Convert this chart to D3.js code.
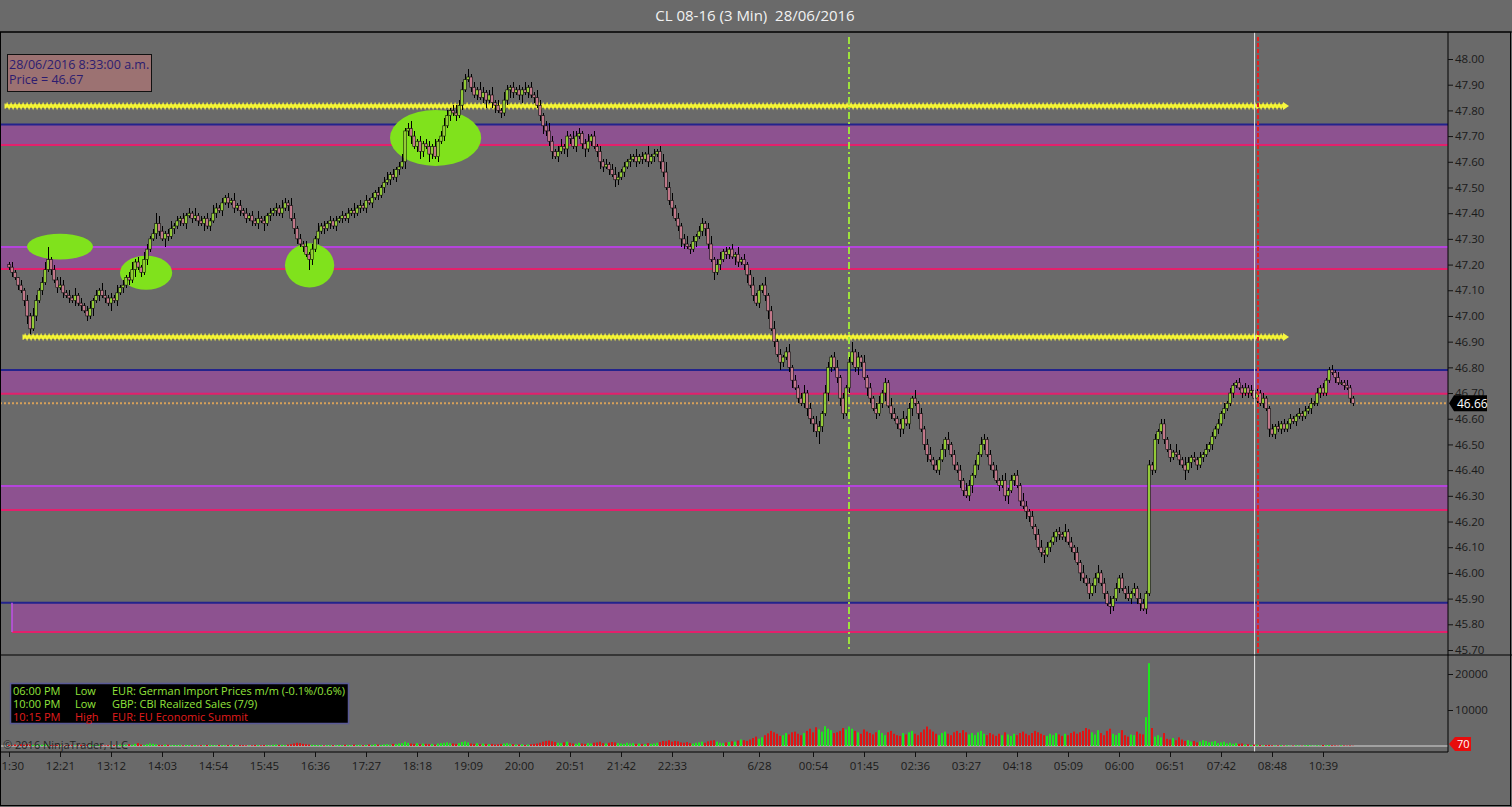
<!DOCTYPE html>
<html><head><meta charset="utf-8">
<script src="https://cdn.jsdelivr.net/npm/d3@7"></script>
<style>
html,body{margin:0;padding:0;background:#6a6a6a;overflow:hidden}
svg text{font-family:"Open Sans","Noto Sans",sans-serif}
</style></head>
<body>
<svg id="chart" width="1512" height="807"></svg>
<script>
// ---------------- DATA ----------------
const title = "CL 08-16 (3 Min)  28/06/2016";
const firstOpen = 47.20;
const closes = [
47.19,47.17,47.15,47.12,47.10,47.06,47.00,46.95,47.00,47.06,
47.10,47.13,47.18,47.22,47.18,47.14,47.11,47.12,47.09,47.08,
47.07,47.06,47.08,47.05,47.04,47.02,47.00,47.03,47.06,47.08,
47.10,47.08,47.07,47.05,47.07,47.06,47.09,47.11,47.12,47.15,
47.14,47.18,47.21,47.19,47.17,47.22,47.26,47.30,47.32,47.36,
47.33,47.30,47.32,47.31,47.34,47.35,47.37,47.38,47.36,47.39,
47.40,47.38,47.39,47.37,47.36,47.38,47.35,47.37,47.40,47.42,
47.41,47.44,47.46,47.44,47.45,47.42,47.43,47.41,47.40,47.38,
47.39,47.37,47.36,47.38,47.37,47.36,47.39,47.40,47.41,47.42,
47.40,47.42,47.44,47.43,47.38,47.34,47.30,47.28,47.27,47.24,
47.22,47.26,47.30,47.33,47.35,47.34,47.36,47.37,47.35,47.37,
47.38,47.39,47.38,47.40,47.41,47.40,47.42,47.43,47.42,47.45,
47.44,47.46,47.48,47.47,47.50,47.52,47.53,47.55,47.54,47.57,
47.58,47.60,47.72,47.73,47.70,47.66,47.68,47.64,47.67,47.66,
47.63,47.66,47.62,47.68,47.70,47.74,47.78,47.80,47.79,47.78,
47.82,47.88,47.92,47.93,47.89,47.86,47.88,47.85,47.87,47.84,
47.86,47.83,47.82,47.80,47.79,47.84,47.88,47.89,47.87,47.88,
47.86,47.88,47.87,47.89,47.86,47.85,47.82,47.78,47.74,47.72,
47.68,47.64,47.62,47.64,47.66,47.65,47.70,47.69,47.66,47.70,
47.71,47.67,47.65,47.68,47.70,47.66,47.64,47.60,47.58,47.59,
47.57,47.55,47.53,47.54,47.56,47.58,47.60,47.61,47.62,47.60,
47.62,47.61,47.63,47.60,47.62,47.63,47.64,47.60,47.56,47.50,
47.45,47.42,47.38,47.35,47.30,47.28,47.27,47.26,47.29,47.31,
47.33,47.36,47.34,47.28,47.22,47.17,47.20,47.22,47.25,47.24,
47.26,47.23,47.24,47.21,47.22,47.20,47.16,47.12,47.08,47.05,
47.10,47.12,47.08,47.02,46.95,46.90,46.85,46.82,46.84,46.86,
46.80,46.75,46.72,46.68,46.66,46.70,46.64,46.60,46.58,46.55,
46.57,46.62,46.70,46.80,46.84,46.80,46.76,46.68,46.62,46.72,
46.82,46.86,46.80,46.84,46.82,46.76,46.72,46.68,46.64,46.62,
46.66,46.70,46.74,46.65,46.62,46.60,46.58,46.56,46.60,46.58,
46.64,46.68,46.66,46.62,46.56,46.50,46.46,46.44,46.42,46.40,
46.44,46.48,46.52,46.50,46.46,46.42,46.40,46.36,46.32,46.30,
46.34,46.38,46.42,46.46,46.50,46.52,46.46,46.42,46.40,46.36,
46.34,46.36,46.30,46.32,46.36,46.38,46.34,46.28,46.26,46.24,
46.22,46.18,46.15,46.10,46.08,46.07,46.10,46.12,46.14,46.16,
46.15,46.14,46.16,46.12,46.10,46.08,46.04,46.00,45.98,45.96,
45.92,45.95,45.98,46.00,45.96,45.92,45.88,45.87,45.90,45.94,
45.98,45.94,45.92,45.90,45.92,45.94,45.90,45.88,45.86,45.92,
46.42,46.40,46.52,46.55,46.58,46.52,46.48,46.45,46.47,46.46,
46.44,46.42,46.40,46.43,46.45,46.44,46.42,46.45,46.46,46.48,
46.50,46.53,46.56,46.58,46.62,46.64,46.66,46.70,46.73,46.74,
46.72,46.70,46.72,46.70,46.71,46.68,46.70,46.66,46.68,46.64,
46.56,46.54,46.57,46.56,46.58,46.56,46.58,46.60,46.59,46.61,
46.62,46.61,46.63,46.64,46.66,46.66,46.70,46.72,46.70,46.75,
46.79,46.78,46.76,46.74,46.74,46.73,46.72,46.68,46.66];
// upper / lower wick length in cents beyond the body
const upperWick = [
1,2,1,0,2,1,2,1,3,2, 1,2,3,5,1,2,1,3,2,1, 2,1,3,1,2,1,2,3,1,2, 1,3,2,1,2,1,3,1,2,1,
2,3,1,2,1,3,2,1,2,4, 3,2,1,2,3,1,2,1,2,1, 2,1,3,1,2,1,2,1,3,2, 1,2,1,2,1,3,1,2,1,2,
1,2,1,3,1,2,1,2,1,2, 1,3,2,1,3,2,1,2,1,2, 1,2,1,3,1,2,1,2,1,2, 1,2,1,2,1,3,1,2,1,2,
1,2,1,2,1,2,3,1,2,1, 2,3,1,2,3,2,1,2,1,2, 2,1,3,1,2,3,2,1,2,3, 2,3,2,3,1,2,1,3,2,1,
2,3,1,2,1,3,2,1,2,1, 2,1,3,1,2,1,3,2,1,2, 3,2,1,2,3,1,2,1,3,2, 2,1,2,3,1,2,1,2,1,2,
1,2,3,2,1,2,1,2,1,3, 1,2,1,3,1,2,1,2,3,4, 2,3,1,2,1,2,3,1,2,1, 2,2,1,2,3,1,2,3,1,2,
1,2,1,3,1,2,1,2,3,1, 2,1,3,1,2,3,1,2,1,2, 3,1,2,1,2,3,1,2,1,3, 2,1,3,2,1,2,3,1,2,1,
2,4,1,2,1,3,1,2,1,2, 3,1,2,1,3,2,1,2,3,1, 2,1,3,1,2,1,2,3,1,2, 1,2,1,3,1,2,1,2,1,3,
2,1,2,1,3,2,1,2,1,2, 1,2,3,1,2,1,2,1,3,2, 1,2,1,2,3,1,2,1,2,1, 2,1,3,1,2,1,2,1,3,1,
2,1,2,3,1,2,1,3,1,2, 1,2,1,3,1,2,1,2,2,1, 2,1,2,1,2,2,1,2,1,3, 2,1,3,2,1,2,1,2,1,2,
1,2,1,2,1,2,1,2,1,1, 2,1,2,1,2,1,2,1,2,1, 1,2,1,2,1,2,1,2,1,1, 2,1,2,1,2,1,2,1,2,1,
1,2,1,2,1,1,2,1,1];
const lowerWick = [
1,2,1,2,1,2,3,2,1,2, 1,2,1,1,2,1,2,1,2,1, 2,1,2,1,2,1,2,1,3,1, 2,1,2,1,3,1,2,1,2,1,
2,1,3,1,2,1,2,1,1,2, 2,1,3,2,1,2,1,2,1,2, 1,2,1,2,1,3,1,2,1,2, 1,2,1,2,1,2,1,2,1,2,
1,2,1,2,1,3,1,2,1,2, 1,2,1,2,1,2,2,1,2,1, 4,2,1,2,1,2,1,2,1,2, 1,2,1,2,1,2,1,2,1,2,
1,2,1,2,1,2,1,2,1,2, 2,1,3,2,3,1,2,3,2,1, 3,2,1,2,1,2,1,2,1,2, 1,2,1,1,2,1,2,1,2,3,
1,2,3,1,2,1,2,3,2,1, 2,3,1,2,1,2,1,2,3,2, 2,3,1,2,1,2,3,2,1,2, 1,2,3,1,2,1,2,3,2,1,
2,1,3,2,1,2,1,2,1,2, 1,2,1,2,1,2,1,3,2,1, 2,3,1,2,3,2,1,2,1,2, 1,2,3,2,1,3,1,2,1,2,
2,1,3,2,1,2,3,1,2,1, 2,1,2,3,1,2,1,3,2,1, 2,3,1,2,1,2,3,2,3,2, 5,2,1,3,2,1,2,3,2,1,
2,1,2,3,2,1,3,2,1,2, 1,2,3,1,2,1,2,3,2,1, 2,3,1,2,1,2,3,1,2,1, 2,1,3,2,1,2,1,3,2,1,
2,3,1,2,1,2,1,2,3,1, 2,1,2,3,1,2,1,2,1,3, 2,1,2,1,2,3,1,2,1,2, 2,1,2,1,2,3,1,3,2,1,
2,1,3,2,1,2,1,3,2,1, 2,1,2,1,2,1,2,3,1,2, 1,2,1,2,1,2,1,2,1,1, 2,1,4,1,2,1,2,1,2,1,
1,2,1,2,1,2,1,1,2,1, 1,2,1,2,1,1,2,1,2,1, 3,1,2,1,2,1,1,2,1,2, 1,2,1,1,2,1,1,2,1,1,
1,1,2,1,1,2,1,2,1];
const volumes = [
300,200,400,250,500,350,600,450,300,250, 400,350,500,300,250,200,300,250,150,200,
250,300,150,200,350,250,300,200,250,150, 300,200,150,250,200,300,250,400,300,350,
500,350,600,800,400,300,500,700,600,450, 300,250,400,350,200,300,250,350,200,300,
250,200,300,150,250,200,300,350,250,200, 300,250,200,300,350,250,200,300,250,200,
150,200,300,250,200,300,250,200,350,400, 300,350,250,400,500,700,900,800,600,500,
400,350,300,250,300,200,250,300,250,200, 300,250,350,300,250,400,300,350,250,300,
400,350,500,400,300,450,500,400,600,500, 700,800,1200,900,700,600,800,500,700,600,
500,600,400,700,800,900,1000,800,700,600, 800,1100,1300,1000,700,600,800,500,700,600,
500,600,400,500,600,700,800,600,500,400, 400,500,300,400,500,600,700,900,1200,1400,
1500,1300,1100,900,800,1000,1200,900,700,600, 900,700,600,800,700,900,1000,1200,800,700,
900,1100,1000,800,700,600,900,700,800,600, 700,600,500,800,600,700,900,1100,1400,1300,
1600,1200,1400,1300,1000,900,1100,800,700,900, 1000,1200,900,1300,1500,1600,1200,900,800,1000,
1100,1300,1200,1500,1800,1600,1400,1800,2200,2600, 2000,2400,3000,3500,4200,3800,3400,2800,3000,3600,
3200,3800,4000,3400,3000,3600,4200,4800,3800,5200, 4600,4000,5500,4800,4400,3600,3800,4200,5000,4600,
5400,4800,4200,3800,3400,4600,4000,3600,3200,3800, 4400,3600,3000,3800,4200,3400,3000,2800,3600,3200,
3800,4200,3400,3000,3800,4600,5400,4600,4000,3400, 3000,3600,4000,3400,3000,3800,4200,3600,4400,3800,
3200,3600,3000,3800,4200,3400,3000,3600,3200,2800, 3400,3000,3800,3200,2800,3400,3000,3600,4000,3400,
3000,3600,4200,3800,3400,3000,2800,3400,3000,3600, 3200,2800,3400,3000,3600,4000,3400,3800,4200,5000,
4600,3800,3200,4400,3600,3000,4200,4800,3400,3000, 3600,4400,3000,2600,3200,3000,4000,3400,3200,8000,
23000,5000,2600,3000,2400,3600,2000,1800,2200,1600, 2400,1800,1400,1600,1200,1400,1000,1200,1600,1400,
1000,1200,1400,800,1000,1200,700,900,600,800, 600,700,400,500,300,400,350,300,200,250,
300,200,150,200,250,150,200,100,150,200, 150,100,200,250,150,100,200,150,300,200,
250,200,150,100,200,150,100,150,70];
const timeTickBars   = [0,17,34,51,68,85,102,119,136,153,170,187,204,221,238,250,268,285,302,319,336,353,370,387,404,421,438];
const timeTickLabels = ["11:30","12:21","13:12","14:03","14:54","15:45","16:36","17:27","18:18","19:09","20:00","20:51","21:42","22:33","","6/28","00:54","01:45","02:36","03:27","04:18","05:09","06:00","06:51","07:42","08:48","10:39"];
const priceTicks = [45.70,45.80,45.90,46.00,46.10,46.20,46.30,46.40,46.50,46.60,46.70,46.80,46.90,47.00,47.10,47.20,47.30,47.40,47.50,47.60,47.70,47.80,47.90,48.00];
const volumeTicks = [10000,20000];
// zones: top price, bottom price, top-line colour kind, start bar
const zoneTop    = [47.745,47.268,46.790,46.338,45.884];
const zoneBottom = [47.665,47.183,46.697,46.245,45.770];
const zoneTopKind = ["blue","violet","blue","violet","blue"];
const zoneStartBar = [-3,-3,-3,-3,1];
const yellowLevels = [47.817,46.918];
const yellowStartBar = [-1.3,4.7];
const yellowEndBar = 425;
// green ellipses: centre bar, centre price, half-width in bars, half-height in price
const ellipseBar   = [17,45.7,100.2,142.2];
const ellipsePrice = [47.270,47.168,47.197,47.693];
const ellipseRBars = [11,8.7,8.2,15.2];
const ellipseRPrice= [0.050,0.066,0.086,0.109];
const lastPrice = 46.66;
const verticalGreenBar = 280;
const verticalRedBar = 416.0;
const crosshairBar = 415.2;
const eventTimes = ["06:00 PM","10:00 PM","10:15 PM"];
const eventImpact = ["Low","Low","High"];
const eventText = ["EUR: German Import Prices m/m (-0.1%/0.6%)","GBP: CBI Realized Sales (7/9)","EUR: EU Economic Summit"];
const infoLines = ["28/06/2016 8:33:00 a.m.","Price = 46.67"];

// ---------------- BUILD ----------------
const bars = closes.map((c,i)=>{
  const o = i===0 ? firstOpen : closes[i-1];
  const top = Math.max(o,c), bot = Math.min(o,c);
  return {i, o, c, h: top + upperWick[i]/100, l: bot - lowerWick[i]/100, v: volumes[i]};
});

const svg = d3.select("#chart");
const W=1512,H=807, axisX=1448, pTop=32, pBot=655, vBot=752;
const bg="#6a6a6a";

const x = d3.scaleLinear().domain([0,448]).range([9,1353]);
const y = d3.scaleLinear().domain([45.70,48.00]).range([650,59]);
const yv = d3.scaleLinear().domain([0,20000]).range([746,674]);

svg.append("rect").attr("width",W).attr("height",H).attr("fill",bg);

const defs = svg.append("defs");
defs.append("clipPath").attr("id","pclip").append("rect").attr("x",0).attr("y",pTop).attr("width",axisX).attr("height",pBot-pTop);
defs.append("clipPath").attr("id","vclip").append("rect").attr("x",0).attr("y",pBot).attr("width",axisX).attr("height",vBot-pBot);

// title
svg.append("text").attr("x",755).attr("y",21).attr("text-anchor","middle")
  .attr("fill","#f2f2f2").style("font-size","15px").style("white-space","pre").text(title);

const pg = svg.append("g").attr("clip-path","url(#pclip)");

// zones
zoneTop.forEach((t,k)=>{
  const x0 = Math.max(0,x(zoneStartBar[k]));
  pg.append("rect").attr("x",x0).attr("y",y(t)).attr("width",axisX-x0).attr("height",y(zoneBottom[k])-y(t))
    .attr("fill","#8d5290");
  const topCol = zoneTopKind[k]==="blue" ? "#23238c" : "#b444dc";
  pg.append("line").attr("x1",k===4?0:x0).attr("x2",axisX).attr("y1",y(t)).attr("y2",y(t)).attr("stroke",topCol).attr("stroke-width",2);
  pg.append("line").attr("x1",x0).attr("x2",axisX).attr("y1",y(zoneBottom[k])).attr("y2",y(zoneBottom[k])).attr("stroke","#e3206c").attr("stroke-width",2);
  if(k===4){
    pg.append("line").attr("x1",x0).attr("x2",x0).attr("y1",y(t)).attr("y2",y(zoneBottom[k])).attr("stroke","#c050e8").attr("stroke-width",1.5);
  }
});

// ellipses
ellipseBar.forEach((b,k)=>{
  pg.append("ellipse").attr("cx",x(b)).attr("cy",y(ellipsePrice[k]))
    .attr("rx",x(b+ellipseRBars[k])-x(b)).attr("ry",y(ellipsePrice[k]-ellipseRPrice[k])-y(ellipsePrice[k]))
    .attr("fill","#80e21c");
});

// orange dotted last price line
pg.append("line").attr("x1",0).attr("x2",axisX).attr("y1",y(lastPrice)).attr("y2",y(lastPrice))
  .attr("stroke","#d6a05a").attr("stroke-width",2).attr("stroke-dasharray","2,2");

// yellow zigzag lines
yellowLevels.forEach((lv,k)=>{
  const x0 = x(yellowStartBar[k]), x1 = x(yellowEndBar), yy = y(lv);
  pg.append("line").attr("x1",x0).attr("x2",x1).attr("y1",yy).attr("y2",yy).attr("stroke","#eaea1a").attr("stroke-width",3.5);
  let d = `M${x0},${yy-2.5}`;
  for(let xx=x0, s=1; xx<=x1; xx+=2, s=-s){ d += `L${xx},${yy+2.6*s}`; }
  pg.append("path").attr("d",d).attr("fill","none").attr("stroke","#f6f640").attr("stroke-width",1.2);
  pg.append("path").attr("d",`M${x1-1},${yy-4}L${x1+5},${yy}L${x1-1},${yy+4}Z`).attr("fill","#f6f640");
});

// vertical lines
pg.append("line").attr("x1",x(verticalGreenBar)).attr("x2",x(verticalGreenBar)).attr("y1",37).attr("y2",650)
  .attr("stroke","#9ee23c").attr("stroke-width",2).attr("stroke-dasharray","7,3,2,3");

// candles
const cg = pg.append("g");
cg.selectAll("line.w").data(bars).join("line").attr("class","w")
  .attr("x1",d=>x(d.i)).attr("x2",d=>x(d.i)).attr("y1",d=>y(d.h)).attr("y2",d=>y(d.l))
  .attr("stroke","#000").attr("stroke-width",1).attr("shape-rendering","crispEdges");
cg.selectAll("rect.b").data(bars).join("rect").attr("class","b")
  .attr("x",d=>x(d.i)-1.2).attr("width",2.4)
  .attr("y",d=>y(Math.max(d.o,d.c)))
  .attr("height",d=>Math.max(0.8,y(Math.min(d.o,d.c))-y(Math.max(d.o,d.c))))
  .attr("fill",d=>d.c>=d.o?"#a4e23e":"#d8869a")
  .attr("stroke","#000").attr("stroke-width",0.6);

// crosshair and red vertical
svg.append("line").attr("x1",x(crosshairBar)).attr("x2",x(crosshairBar)).attr("y1",pTop).attr("y2",vBot)
  .attr("stroke","#e8e8e8").attr("stroke-width",1);
pg.append("line").attr("x1",x(verticalRedBar)+1).attr("x2",x(verticalRedBar)+1).attr("y1",pTop+5).attr("y2",pBot-2)
  .attr("stroke","#e42020").attr("stroke-width",2).attr("stroke-dasharray","4,2");

// volume
const vg = svg.append("g").attr("clip-path","url(#vclip)");
vg.append("line").attr("x1",0).attr("x2",axisX).attr("y1",yv(0)).attr("y2",yv(0)).attr("stroke","#d8d8d8").attr("stroke-width",1);
vg.selectAll("rect.v").data(bars).join("rect").attr("class","v")
  .attr("x",d=>x(d.i)-1).attr("width",2)
  .attr("y",d=>yv(d.v)).attr("height",d=>yv(0)-yv(d.v))
  .attr("fill",d=>d.c>=d.o?"#1ee61e":"#e01414");

// frame lines
svg.append("line").attr("x1",0).attr("x2",W).attr("y1",pTop).attr("y2",pTop).attr("stroke","#000");
svg.append("line").attr("x1",0).attr("x2",W).attr("y1",pBot).attr("y2",pBot).attr("stroke","#000");
svg.append("line").attr("x1",0).attr("x2",axisX).attr("y1",vBot).attr("y2",vBot).attr("stroke","#000");
svg.append("line").attr("x1",axisX).attr("x2",axisX).attr("y1",pTop).attr("y2",vBot).attr("stroke","#000");
svg.append("rect").attr("x",0.5).attr("y",pTop).attr("width",W-2).attr("height",H-pTop-1.5).attr("fill","none").attr("stroke","#000");

// axes
const axStyle = g=>{ g.select(".domain").remove(); g.selectAll("line").attr("stroke","#111");
  g.selectAll("text").attr("fill","#1a1a1a").style("font-size","11.5px").style("font-family","'Open Sans',sans-serif"); };
svg.append("g").attr("transform",`translate(${axisX},0)`)
  .call(d3.axisRight(y).tickValues(priceTicks).tickSize(5).tickPadding(2).tickFormat(d3.format(".2f"))).call(axStyle);
svg.append("g").attr("transform",`translate(${axisX},0)`)
  .call(d3.axisRight(yv).tickValues(volumeTicks).tickSize(5).tickPadding(2).tickFormat(d3.format("d"))).call(axStyle);
svg.append("g").attr("transform",`translate(0,${vBot})`)
  .call(d3.axisBottom(x).tickValues(timeTickBars).tickSize(5).tickPadding(5).tickFormat((d,i)=>timeTickLabels[i])).call(axStyle);

// last price marker
const ly = y(lastPrice);
svg.append("path").attr("d",`M${axisX+1},${ly}L${axisX+6},${ly-8}L${axisX+39},${ly-8}L${axisX+39},${ly+8}L${axisX+6},${ly+8}Z`).attr("fill","#000");
svg.append("text").attr("x",axisX+9).attr("y",ly+4.5).attr("fill","#fff").style("font-size","12px").text(d3.format(".2f")(lastPrice));
// last volume marker
const lv = yv(0);
svg.append("path").attr("d",`M${axisX+1},${lv-2}L${axisX+7},${lv-9}L${axisX+23},${lv-9}L${axisX+23},${lv+5}L${axisX+7},${lv+5}Z`).attr("fill","#e80c0c");
svg.append("text").attr("x",axisX+9).attr("y",lv+2).attr("fill","#fff").style("font-size","11px").text(volumes[volumes.length-1]);

// info box
svg.append("rect").attr("x",7.5).attr("y",54.5).attr("width",144).attr("height",37).attr("fill","#9c7272").attr("stroke","#111");
infoLines.forEach((t,k)=>svg.append("text").attr("x",9).attr("y",69+k*15).attr("fill","#2c1c70").style("font-size","12.5px").text(t));

// events legend
svg.append("rect").attr("x",10.5).attr("y",683.5).attr("width",338).attr("height",40).attr("fill","#000").attr("stroke","#5a5a96").attr("stroke-width",1.5);
eventTimes.forEach((t,k)=>{
  const col = eventImpact[k]==="High" ? "#e01c1c" : "#92e43c";
  const yy = 695+k*13;
  svg.append("text").attr("x",13).attr("y",yy).attr("fill",col).style("font-size","11px").text(t);
  svg.append("text").attr("x",75).attr("y",yy).attr("fill",col).style("font-size","11px").text(eventImpact[k]);
  svg.append("text").attr("x",112).attr("y",yy).attr("fill",col).style("font-size","11px").text(eventText[k]);
});

svg.append("text").attr("x",3).attr("y",749).attr("fill","#222").style("font-size","11px").text("© 2016 NinjaTrader, LLC");
</script>
</body></html>
